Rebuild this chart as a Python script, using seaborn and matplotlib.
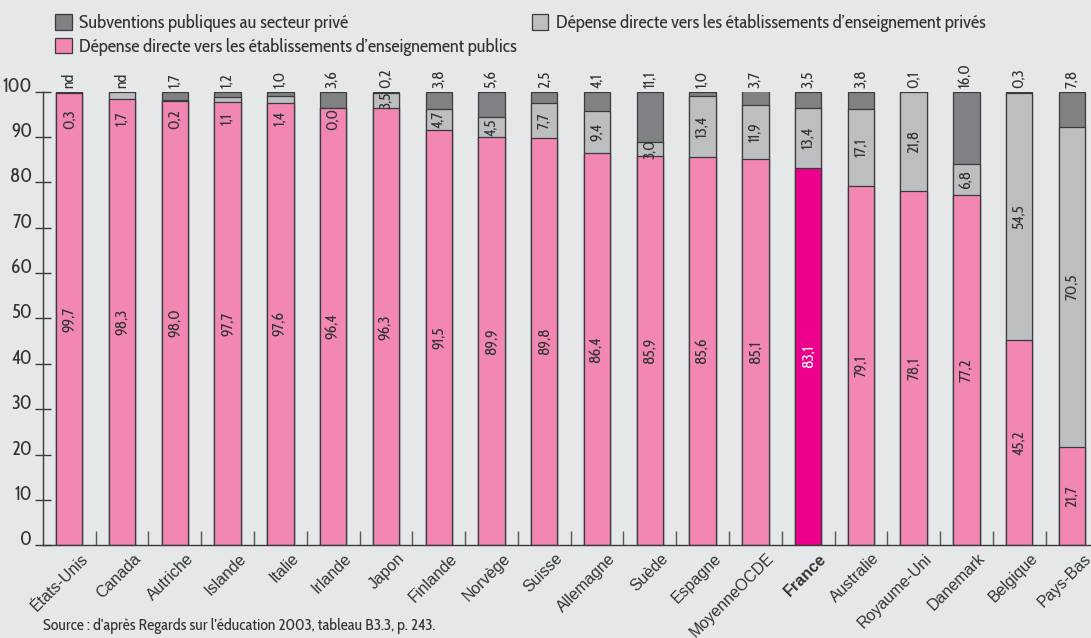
import numpy as np
import pandas as pd
import matplotlib
matplotlib.use("Agg")
import matplotlib.pyplot as plt
import matplotlib.transforms as mtransforms
from matplotlib import font_manager as fm
from matplotlib.textpath import TextPath
from matplotlib.patches import Patch
import seaborn as sns

# data (percent of expenditure)
pays = ["États-Unis", "Canada", "Autriche", "Islande", "Italie", "Irlande", "Japon",
        "Finlande", "Norvège", "Suisse", "Allemagne", "Suède", "Espagne", "MoyenneOCDE",
        "France", "Australie", "Royaume-Uni", "Danemark", "Belgique", "Pays-Bas"]
public = [99.7, 98.3, 98.0, 97.7, 97.6, 96.4, 96.3, 91.5, 89.9, 89.8,
          86.4, 85.9, 85.6, 85.1, 83.1, 79.1, 78.1, 77.2, 45.2, 21.7]
prive = [0.3, 1.7, 0.2, 1.1, 1.4, 0.0, 3.5, 4.7, 4.5, 7.7,
         9.4, 3.0, 13.4, 11.9, 13.4, 17.1, 21.8, 6.8, 54.5, 70.5]
subventions = [np.nan, np.nan, 1.7, 1.2, 1.0, 3.6, 0.2, 3.8, 5.6, 2.5,
               4.1, 11.1, 1.0, 3.7, 3.5, 3.8, 0.1, 16.0, 0.3, 7.8]

BG = "#e6e7e9"
PINK = "#f287b4"
FRANCE = "#ec008c"
DARK = "#808184"
LIGHT = "#bcbec0"
EDGE = "#3a3a3a"
TXT = "#333333"

plt.rcParams["font.family"] = ["Liberation Sans", "DejaVu Sans"]

# the original uses a narrow face (Arial Narrow-like, ~0.82 of Arial's width);
# pick the condensed font installed that comes closest to that
sample = "Dépense directe vers les établissements publics 98,3"


def text_width(prop):
    return TextPath((0, 0), sample, prop=prop, size=10).get_extents().width


ref_w = text_width(fm.FontProperties(family="Liberation Sans"))
narrow_file, best = None, 9.0
for f in fm.fontManager.ttflist:
    n = (f.name + " " + f.fname).lower()
    if f.style != "normal" or f.weight not in (400, "normal", "regular"):
        continue
    if any(k in f.fname.lower() for k in ("bold", "italic", "oblique", "light", "thin", "medium", "black")):
        continue
    if not ("narrow" in n or "condensed" in n or str(f.stretch) not in ("normal", "500", "400")):
        continue
    try:
        ratio = text_width(fm.FontProperties(fname=f.fname)) / ref_w
    except Exception:
        continue
    if abs(ratio - 0.82) < best:
        best, narrow_file, narrow_ratio = abs(ratio - 0.82), f.fname, ratio


def nfont(size):
    if narrow_file:
        # keep overall width close to the narrow original
        return fm.FontProperties(fname=narrow_file, size=size * min(1.0, 0.82 / narrow_ratio))
    return fm.FontProperties(family="Liberation Sans", size=size * 0.85)


df = pd.DataFrame({"pays": pays, "public": public, "prive": prive,
                   "subv": subventions})
df["pub_priv"] = df["public"] + df["prive"]
df["total"] = df["pub_priv"] + df["subv"].fillna(0)

fig = plt.figure(figsize=(10.91, 6.38), dpi=100, facecolor=BG)
ax = fig.add_axes([0.0398, 0.1453, 0.9602, 0.711])
ax.set_facecolor(BG)

bar_kw = dict(width=0.5, edgecolor=EDGE, linewidth=0.9, saturation=1, ax=ax)
sns.barplot(data=df, x="pays", y="total", color=DARK, **bar_kw)
sns.barplot(data=df, x="pays", y="pub_priv", color=LIGHT, **bar_kw)
pal = [FRANCE if p == "France" else PINK for p in pays]
sns.barplot(data=df, x="pays", y="public", hue="pays", palette=pal, legend=False, **bar_kw)


def fmt(v):
    return f"{v:.1f}".replace(".", ",")


for i, row in df.iterrows():
    # public share label
    ax.text(i, row["public"] / 2, fmt(row["public"]), rotation=90, ha="center", va="center",
            fontproperties=nfont(11.5),
            color="white" if row["pays"] == "France" else TXT)
    # private share label
    if row["prive"] >= 2.5:
        yp = row["public"] + row["prive"] / 2
    else:
        yp = 94
    ax.text(i, yp, fmt(row["prive"]), rotation=90, ha="center", va="center",
            fontproperties=nfont(11.5), color=TXT)
    # subsidies above bar
    s = "nd" if np.isnan(row["subv"]) else fmt(row["subv"])
    ax.annotate(s, (i, 100), xytext=(0, 3), textcoords="offset points", rotation=90,
                ha="center", va="bottom", fontproperties=nfont(11.5), color=TXT,
                annotation_clip=False)

ax.set_xlim(-0.49, 19.36)
ax.set_ylim(0, 100)
ax.set_xlabel("")
ax.set_ylabel("")
for side in ["top", "right"]:
    ax.spines[side].set_visible(False)
for side in ["left", "bottom"]:
    ax.spines[side].set_color(EDGE)
    ax.spines[side].set_linewidth(1)

ax.set_yticks(range(0, 101, 10))
ax.tick_params(axis="y", direction="inout", length=12, width=1, color=EDGE,
               labelcolor=TXT, pad=2)
for lab in ax.get_yticklabels():
    lab.set_fontproperties(nfont(14))
    lab.set_verticalalignment("baseline")

ax.set_xticks(range(len(pays)))
ax.set_xticklabels(pays, rotation=45, ha="right", rotation_mode="anchor", fontsize=11.5, color=TXT)
ax.set_xticks(np.arange(0.5, len(pays) - 1, 1), minor=True)
ax.tick_params(axis="x", which="major", length=0, pad=4)
ax.tick_params(axis="x", which="minor", direction="in", length=10, width=1, color="#555555")
shift = mtransforms.ScaledTranslation(0.11, 0, fig.dpi_scale_trans)
for lab in ax.get_xticklabels():
    lab.set_transform(lab.get_transform() + shift)
    if lab.get_text() == "France":
        lab.set_fontweight("bold")

handles = [Patch(facecolor=DARK, edgecolor=EDGE, linewidth=0.9),
           Patch(facecolor=PINK, edgecolor=EDGE, linewidth=0.9),
           Patch(facecolor=LIGHT, edgecolor=EDGE, linewidth=0.9)]
labels = ["Subventions publiques au secteur privé",
          "Dépense directe vers les établissements d’enseignement publics",
          "Dépense directe vers les établissements d’enseignement privés"]
fig.legend(handles, labels, loc="upper left", bbox_to_anchor=(0.035, 1.004), ncol=2,
           frameon=False, handlelength=0.9, handleheight=0.9, handletextpad=0.4,
           columnspacing=0.8, labelspacing=0.3, prop=nfont(13.4),
           labelcolor=TXT)

fig.text(0.0398, 0.012, "Source : d'après Regards sur l'éducation 2003, tableau B3.3, p. 243.",
         fontproperties=nfont(11.5), color=TXT, ha="left", va="baseline")

fig.savefig("out.png", dpi=100, facecolor=BG)
